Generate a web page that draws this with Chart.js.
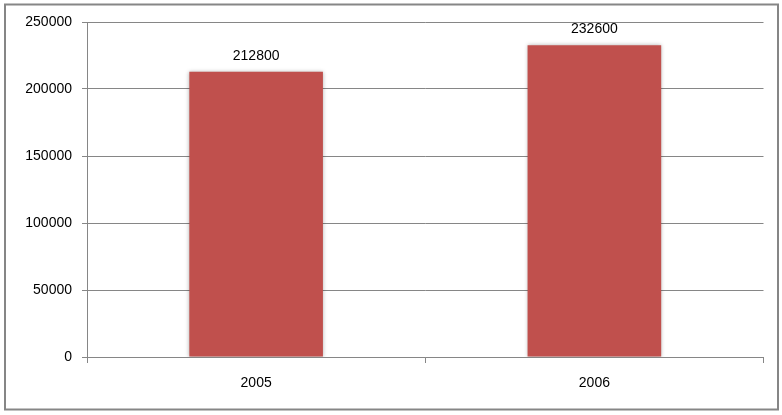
<!DOCTYPE html>
<html>
<head>
<meta charset="UTF-8">
<title>Chart</title>
<script src="https://cdn.jsdelivr.net/npm/chart.js"></script>
<style>
  body { margin: 0; background: #fff; }
  #wrap { width: 782px; height: 415px; }
</style>
</head>
<body>
<div id="wrap"><canvas id="grafico" width="782" height="415"></canvas></div>
<script>
const anos = ['2005', '2006'];
const valores = [212800, 232600];
const yMax = 250000;
const yPasso = 50000;

const corBarra = '#C0504D';
const corLinha = '#868686';
const fonte = "'Liberation Sans', Arial, sans-serif";

// moldura cinza em volta de tudo
const moldura = {
  id: 'moldura',
  beforeDraw(chart) {
    const ctx = chart.ctx;
    ctx.save();
    ctx.fillStyle = '#fff';
    ctx.fillRect(0, 0, chart.width, chart.height);
    ctx.strokeStyle = corLinha;
    ctx.lineWidth = 2;
    ctx.strokeRect(5, 4.5, 773, 405);
    ctx.restore();
  }
};

// sombra leve nas barras
const sombra = {
  id: 'sombra',
  beforeDatasetDraw(chart) {
    const ctx = chart.ctx;
    ctx.save();
    ctx.shadowColor = 'rgba(0,0,0,0.3)';
    ctx.shadowBlur = 4;
    ctx.shadowOffsetX = 0;
    ctx.shadowOffsetY = 0;
  },
  afterDatasetDraw(chart) {
    chart.ctx.restore();
  }
};

// valores em cima das barras
const rotulos = {
  id: 'rotulos',
  afterDatasetsDraw(chart) {
    const ctx = chart.ctx;
    const meta = chart.getDatasetMeta(0);
    ctx.save();
    ctx.font = '14px ' + fonte;
    ctx.fillStyle = '#000';
    ctx.textAlign = 'center';
    ctx.textBaseline = 'middle';
    meta.data.forEach((bar, i) => {
      ctx.fillText(String(valores[i]), bar.x, bar.y - 16);
    });
    ctx.restore();
  }
};

new Chart(document.getElementById('grafico'), {
  type: 'bar',
  data: {
    labels: anos,
    datasets: [{
      data: valores,
      backgroundColor: corBarra,
      borderWidth: 0,
      barPercentage: 0.395,
      categoryPercentage: 1
    }]
  },
  options: {
    responsive: false,
    animation: false,
    layout: { padding: { top: 22, right: 18.5, bottom: 0, left: 0 } },
    plugins: {
      legend: { display: false },
      tooltip: { enabled: false }
    },
    scales: {
      x: {
        afterFit(scale) { scale.height = 58; },
        grid: {
          offset: true,
          drawOnChartArea: false,
          drawTicks: true,
          tickLength: 6,
          color: corLinha,
          lineWidth: 1
        },
        border: { color: corLinha, width: 1 },
        ticks: {
          color: '#000',
          font: { family: fonte, size: 14 },
          padding: 12
        }
      },
      y: {
        min: 0,
        max: yMax,
        afterFit(scale) { scale.width = 87; },
        grid: {
          color: corLinha,
          lineWidth: 1,
          tickLength: 5
        },
        border: { color: corLinha, width: 1 },
        ticks: {
          stepSize: yPasso,
          color: '#000',
          font: { family: fonte, size: 14 },
          padding: 10,
          callback: v => String(v)
        }
      }
    }
  },
  plugins: [moldura, sombra, rotulos]
});
</script>
</body>
</html>
